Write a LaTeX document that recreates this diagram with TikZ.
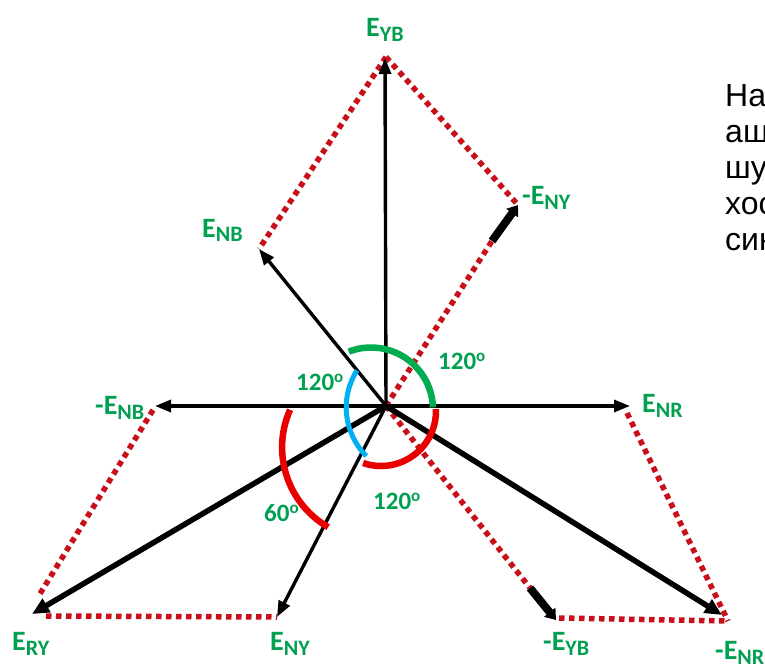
\documentclass[tikz,border=0pt]{standalone}
\usepackage{fontspec}
\setmainfont{Carlito}
\newfontfamily\cyrfont{Liberation Sans}
\usetikzlibrary{arrows.meta,calc}
\definecolor{dred}{RGB}{200,16,26}
\definecolor{lgreen}{RGB}{0,160,80}
\definecolor{agreen}{RGB}{0,172,80}
\definecolor{ared}{RGB}{232,0,0}
\definecolor{ablue}{RGB}{0,176,240}
\newcommand\vlab[2]{\fontsize{28}{28}\selectfont\bfseries #1\raisebox{-5pt}{\fontsize{22}{22}\selectfont #2}}
\newcommand\deglab[1]{\fontsize{25}{25}\selectfont\bfseries #1\raisebox{8pt}{\fontsize{17}{17}\selectfont o}}
\begin{document}
\begin{tikzpicture}[x=1pt,y=-1pt,
  dotline/.style={draw=dred,line width=5.5pt,dash pattern=on 5.5pt off 4.5pt},
  thinvec/.style={draw=black,line width=3.4pt,-{Triangle[length=16pt,width=12pt]}},
  thickvec/.style={draw=black,line width=5.5pt,-{Triangle[length=17pt,width=15pt]}},
  stubvec/.style={draw=black,line width=8pt,-{Triangle[length=10pt,width=14pt]}},
  vlabel/.style={text=lgreen,anchor=base west,inner sep=0pt},
  deglabel/.style={text=lgreen,anchor=base west,inner sep=0pt},
  anglearc/.style={line width=6.5pt},
  cyrline/.style={anchor=base west,inner sep=0pt,font=\cyrfont\fontsize{32}{36}\selectfont}]
\useasboundingbox (0,0) rectangle (765,668);
\clip (0,0) rectangle (765,668);
\fill[white] (0,0) rectangle (765,668);

% points
\coordinate (O) at (386,406);
\coordinate (YB) at (385,58);
\coordinate (T) at (386,57);
\coordinate (NB) at (259,249);
\coordinate (mNY) at (518,205);
\coordinate (mNYs) at (492,241);
\coordinate (mNB) at (155,406);
\coordinate (NR) at (630,406);
\coordinate (RY) at (32,614);
\coordinate (NY) at (277,617);
\coordinate (mYB) at (556,620);
\coordinate (mYBs) at (530,588);
\coordinate (mNR) at (722,615);
\coordinate (mNRc) at (728,621);

% dotted construction lines
\draw[dotline] (T) -- (NB);
\draw[dotline] (T) -- (mNY);
\draw[dotline] (O) -- (mNYs);
\draw[dotline] (153,410) -- (38,597);
\draw[dotline] (46,616) -- (NY);
\draw[dotline] (O) -- (mYBs);
\draw[dotline] (559,618) -- (mNRc);
\draw[dotline] (627,413) -- (mNRc);

% vectors
\draw[thinvec] (O) -- (YB);
\draw[thinvec] (O) -- (NB);
\draw[thinvec] (O) -- (mNB);
\draw[thinvec] (O) -- (NR);
\draw[thinvec] (O) -- (NY);
\draw[thickvec] (O) -- (RY);
\draw[thickvec] (O) -- (mNR);
\draw[stubvec] (mNYs) -- (mNY);
\draw[stubvec] (mYBs) -- (mYB);

% angle arcs
\draw[anglearc,agreen] ($(371,409.5)+(-2:62)$) arc[start angle=-2,end angle=-111,radius=62];
\draw[line width=5pt,ablue] ($(415,407.4)+(-147.5:68.8)$) arc[start angle=-147.5,end angle=-225,radius=68.8];
\draw[anglearc,ared] ($(381,411)+(-2:55)$) arc[start angle=-2,end angle=109,radius=55];
\draw[anglearc,ared] ($(374.3,447.3)+(-156:92.2)$) arc[start angle=-156,end angle=-240,radius=92.2];

% vector labels
\node[vlabel] (lYB) at (366,37) {\vlab{E}{YB}};
\node[vlabel] (lmNY) at (522,205) {\vlab{-E}{NY}};
\node[vlabel] (lNB) at (202,237) {\vlab{E}{NB}};
\node[vlabel] (lmNB) at (95,414) {\vlab{-E}{NB}};
\node[vlabel] (lNR) at (642,412) {\vlab{E}{NR}};
\node[vlabel] (lRY) at (12,650) {\vlab{E}{RY}};
\node[vlabel] (lNY) at (270,650) {\vlab{E}{NY}};
\node[vlabel] (lmYB) at (543,650) {\vlab{-E}{YB}};
\node[vlabel] (lmNR) at (715,659) {\vlab{-E}{NR}};

% angle labels
\node[deglabel] (d1) at (296,390) {\deglab{120}};
\node[deglabel] (d2) at (438,369) {\deglab{120}};
\node[deglabel] (d3) at (373,509) {\deglab{120}};
\node[deglabel] (d4) at (264,521) {\deglab{60}};

% clipped side text
\node[cyrline] (c1) at (725,107) {На};
\node[cyrline] (c2) at (725,143) {аш};
\node[cyrline] (c3) at (725,179) {шу};
\node[cyrline] (c4) at (725,215) {хос};
\node[cyrline] (c5) at (725,251) {син};
\end{tikzpicture}
\end{document}
